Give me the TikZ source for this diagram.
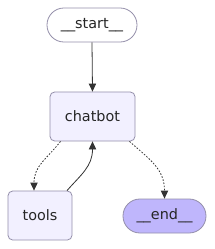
\documentclass[tikz,border=0pt]{standalone}
\usepackage{fontspec}
\setmainfont{DejaVu Sans}
\usetikzlibrary{arrows.meta,calc}
\definecolor{nodestroke}{HTML}{948FAA}
\definecolor{nodefill}{HTML}{F2F0FF}
\definecolor{endfill}{HTML}{BFB6FC}
\definecolor{edgecol}{HTML}{333333}
\tikzset{
  box/.style={draw=nodestroke, line width=0.6pt, fill=nodefill, rounded corners=3.5pt,
    inner sep=0pt, font=\fontsize{10.8}{12}\selectfont, text=black!85},
  pill/.style={box, rounded corners=12.7pt, minimum height=25.5pt},
  edge/.style={draw=edgecol, line width=0.6pt, -{Triangle[length=6pt,width=5.5pt]}},
  dotedge/.style={edge, dash pattern=on 1.2pt off 1.2pt}
}
\begin{document}
\begin{tikzpicture}[x=0.75pt,y=-0.75pt]
\useasboundingbox (0,0) rectangle (214,249);
\node[pill, fill=white, minimum width=67.5pt] (start) at (92,25) {\_\_start\_\_};
\node[box, minimum width=63.75pt, minimum height=36.75pt] (chatbot) at (92.5,116.5) {chatbot};
\node[box, minimum width=48pt, minimum height=36.75pt] (tools) at (40,215.5) {tools};
\node[pill, fill=endfill, minimum width=62.25pt] (end) at (164.5,216) {\_\_end\_\_};
\draw[edge] (start.south) -- (chatbot.north);
\draw[dotedge] ($(chatbot.south)+(-32,0)$) .. controls +(-14,18) and +(0,-25) .. ($(tools.north)+(-6,0)$);
\draw[edge] ($(tools.north)+(27,0)$) .. controls +(14,-16) and +(0,25) .. (chatbot.south);
\draw[dotedge] ($(chatbot.south)+(37,0)$) .. controls +(20,18) and +(0,-30) .. (end.north);
\end{tikzpicture}
\end{document}
